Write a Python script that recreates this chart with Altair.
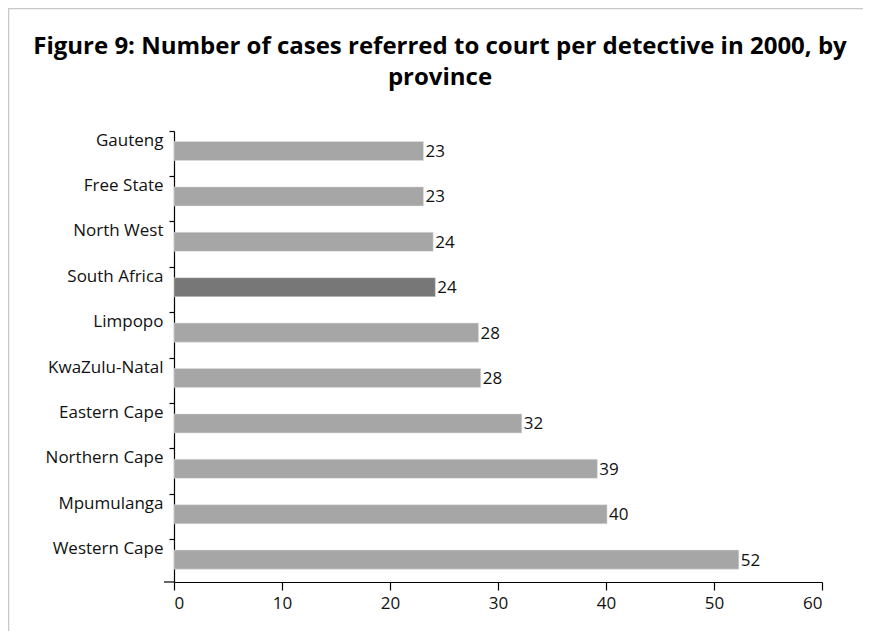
import altair as alt
import pandas as pd

provinces = ["Gauteng", "Free State", "North West", "South Africa", "Limpopo",
             "KwaZulu-Natal", "Eastern Cape", "Northern Cape", "Mpumulanga", "Western Cape"]
values = [23.1, 23.1, 24.0, 24.2, 28.2, 28.4, 32.2, 39.2, 40.1, 52.3]
bar_colors = ["#a6a6a6", "#a6a6a6", "#a6a6a6", "#777777", "#a6a6a6",
              "#a6a6a6", "#a6a6a6", "#a6a6a6", "#a6a6a6", "#a6a6a6"]
x_ticks = [0, 10, 20, 30, 40, 50, 60]
title_lines = ["Figure 9: Number of cases referred to court per detective in 2000, by", "province"]

FONT = "Open Sans"
W, H = 648, 451
df = pd.DataFrame({"province": provinces, "value": values, "color": bar_colors})

TICK_OFF = -20.5
y_enc = alt.Y("province:N", sort=provinces, title=None,
              scale=alt.Scale(paddingInner=0.58, paddingOuter=0.257, align=0.45),
              axis=alt.Axis(tickOffset=TICK_OFF, labelOffset=-11 - TICK_OFF,
                            labelFontSize=17, labelFont=FONT,
                            labelColor="#111111", domainColor="#000000", tickColor="#000000",
                            tickSize=5, labelPadding=6, domainWidth=1.2, tickWidth=1.2))
x_enc = alt.X("value:Q", title=None, scale=alt.Scale(domain=[0, 60], nice=False),
              axis=alt.Axis(values=x_ticks, tickSize=8, labelPadding=5, grid=False,
                            labelFontSize=17, labelFont=FONT, labelColor="#111111",
                            domainColor="#000000", tickColor="#000000",
                            domainWidth=1.2, tickWidth=1.2))

bars = alt.Chart(df).mark_bar(stroke="#e0e0e0", strokeWidth=0.5).encode(
    x=x_enc, y=y_enc, color=alt.Color("color:N", scale=None))
labels = alt.Chart(df).mark_text(align="left", baseline="middle", dx=2, dy=1,
                                 fontSize=17, font=FONT, color="#111111").encode(
    x=alt.X("value:Q"), y=alt.Y("province:N", sort=provinces),
    text=alt.Text("value:Q", format=".0f"))

one = pd.DataFrame({"k": [0]})
top_line = alt.Chart(one).mark_rule(color="#c8c8c8", strokeWidth=1.5).encode(
    x=alt.value(-166), x2=alt.value(700), y=alt.value(-122.5))
left_line = alt.Chart(one).mark_rule(color="#c8c8c8", strokeWidth=1.5).encode(
    x=alt.value(-165.5), y=alt.value(-123), y2=alt.value(520))
corner = alt.Chart(one).mark_rule(color="#000000", strokeWidth=1.2).encode(
    x=alt.value(-10), x2=alt.value(0), y=alt.value(H))
title = alt.Chart(one).mark_text(text=title_lines, fontSize=24, font=FONT, fontWeight="bold",
                                 align="center", baseline="alphabetic", lineHeight=31,
                                 color="#000000").encode(
    x=alt.value(266), y=alt.value(-77))

chart = alt.layer(top_line, left_line, title, bars, labels, corner).properties(
    width=W, height=H,
    autosize=alt.AutoSizeParams(type="none"),
    padding={"left": 166, "top": 123, "right": 41, "bottom": 49},
).configure_view(stroke=None)

chart.save("out.html", embed_options={"renderer": "svg", "actions": False})
